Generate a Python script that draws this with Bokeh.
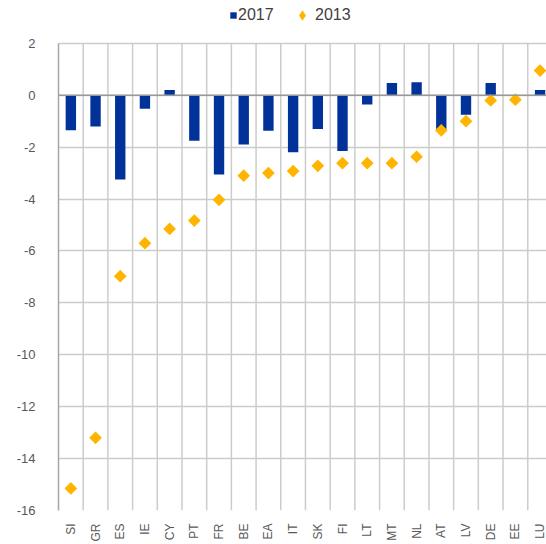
import math
from bokeh.plotting import figure
from bokeh.models import (ColumnDataSource, Range1d, FixedTicker, Legend, LegendItem, Span)
from bokeh.embed import file_html
from bokeh.resources import INLINE

# ---- data ----
categories = ["SI", "GR", "ES", "IE", "CY", "PT", "FR", "BE", "EA", "IT",
              "SK", "FI", "LT", "MT", "NL", "AT", "LV", "DE", "EE", "LU"]
values_2017 = [-1.35, -1.2, -3.25, -0.52, 0.2, -1.75, -3.05, -1.9, -1.37, -2.2,
               -1.3, -2.15, -0.36, 0.47, 0.5, -1.3, -0.75, 0.47, 0.0, 0.2]
values_2013 = [-15.15, -13.2, -6.97, -5.7, -5.15, -4.83, -4.03, -3.1, -3.0, -2.92,
               -2.72, -2.62, -2.62, -2.62, -2.37, -1.35, -1.0, -0.2, -0.17, 0.95]
y_ticks = [2, 0, -2, -4, -6, -8, -10, -12, -14, -16]
series_names = ["2017", "2013"]

BLUE = "#003299"
YELLOW = "#FFB400"
GRID = "#cccccc"
TEXT = "#595959"
FONT = "Liberation Sans"

xs = list(range(len(categories)))
src = ColumnDataSource(dict(x=xs, cat=categories, v2017=values_2017, v2013=values_2013))

y_lo, y_hi = min(y_ticks), max(y_ticks)
# extra headroom above the top tick holds the legend
p = figure(width=546, height=544, output_backend="svg", toolbar_location=None,
           x_range=Range1d(-0.5, len(categories) - 0.74),
           y_range=Range1d(y_lo, y_hi + 1.65),
           min_border_left=58, min_border_right=0, min_border_top=0, min_border_bottom=0)
p.outline_line_color = None
p.background_fill_color = "white"

# vertical separators between categories (bounded to the tick span)
seps = [i + 0.5 for i in xs]
p.segment(x0=seps, x1=seps, y0=[y_lo] * len(seps), y1=[y_hi] * len(seps),
          line_color=GRID, line_width=1.5)

bars = p.vbar(x="x", top="v2017", width=0.42, bottom=0, source=src,
              fill_color=BLUE, line_color=None)
pts = p.scatter(x="x", y="v2013", source=src, marker="square", angle=math.pi / 4,
                size=9, fill_color=YELLOW, line_color=None)
# legend-only diamond glyph (one undrawn NaN point)
pts_key = p.scatter(x=[float("nan")], y=[float("nan")], marker="diamond",
                    fill_color=YELLOW, line_color=None)

# zero line
p.add_layout(Span(location=0, dimension="width", line_color="#999999", line_width=1.5))

# axes
p.xaxis.ticker = FixedTicker(ticks=xs)
p.xaxis.major_label_overrides = {i: c for i, c in zip(xs, categories)}
p.xaxis.major_label_orientation = math.pi / 2
p.xaxis.major_label_text_font = FONT
p.xaxis.major_label_text_font_size = "12px"
p.xaxis.major_label_text_color = TEXT
p.xaxis.major_label_standoff = 7
p.xaxis.major_tick_line_color = None
p.xaxis.minor_tick_line_color = None
p.xaxis.axis_line_color = None

p.yaxis.ticker = FixedTicker(ticks=y_ticks)
p.yaxis.bounds = (y_lo, y_hi)
p.yaxis.major_label_overrides = {t: str(t) for t in y_ticks}
p.yaxis.major_label_text_font = FONT
p.yaxis.major_label_text_font_size = "13px"
p.yaxis.major_label_text_color = TEXT
p.yaxis.major_label_standoff = 17
p.yaxis.major_tick_line_color = None
p.yaxis.minor_tick_line_color = None
p.yaxis.axis_line_color = "#a6a6a6"
p.yaxis.axis_line_width = 1.5

# grids
p.xgrid.grid_line_color = None
p.ygrid.grid_line_color = GRID
p.ygrid.grid_line_width = 1.5

# legends (two, to size glyphs independently)
common = dict(orientation="horizontal", label_height=12, padding=0, margin=0,
              border_line_color=None, background_fill_alpha=0,
              label_text_font=FONT, label_text_font_size="16px", label_text_color="#404040")
legA = Legend(items=[LegendItem(label=series_names[0], renderers=[bars])],
              location=(171, 486), glyph_width=8, glyph_height=8, label_standoff=1, **common)
legB = Legend(items=[LegendItem(label=series_names[1], renderers=[pts_key])],
              location=(231, 482), glyph_width=26, glyph_height=26, label_standoff=0, **common)
p.add_layout(legA, "center")
p.add_layout(legB, "center")

open("out.html", "w").write(file_html(p, INLINE))
